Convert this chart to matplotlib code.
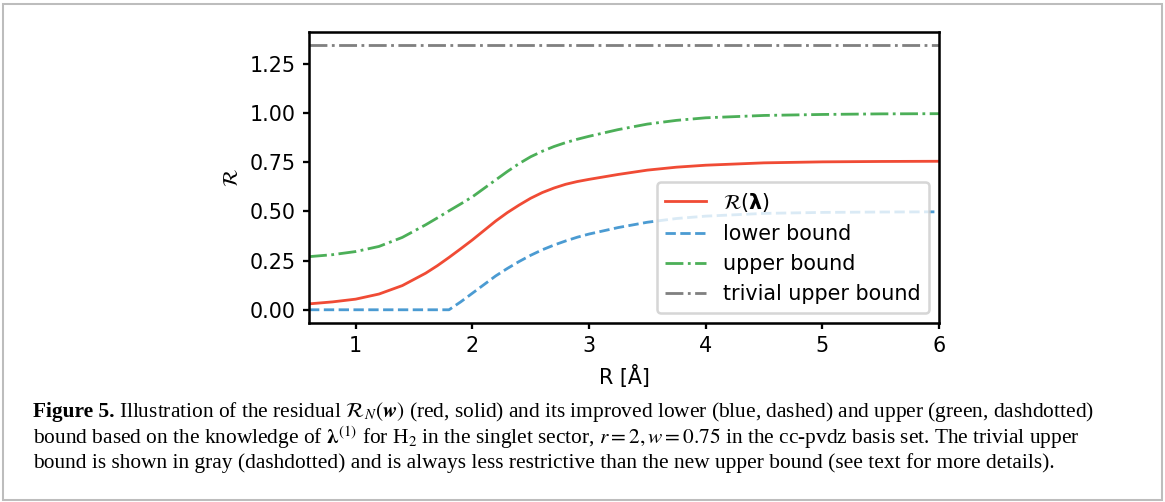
import matplotlib
matplotlib.use("Agg")
import matplotlib.pyplot as plt
from matplotlib.patches import Rectangle

# ---------------- donnees ----------------
R_vals = [0.6, 0.8, 1.0, 1.2, 1.4, 1.6, 1.7, 1.8, 1.9, 2.0, 2.1, 2.2, 2.3,
          2.4, 2.5, 2.6, 2.7, 2.8, 2.9, 3.0, 3.25, 3.5, 3.75, 4.0, 4.5, 5.0,
          5.5, 6.0]
residual = [0.030, 0.040, 0.054, 0.080, 0.123, 0.186, 0.224, 0.266, 0.310,
            0.355, 0.403, 0.451, 0.494, 0.532, 0.567, 0.596, 0.619, 0.638,
            0.652, 0.663, 0.688, 0.710, 0.725, 0.735, 0.747, 0.752, 0.754,
            0.755]
lower = [0.0, 0.0, 0.0, 0.0, 0.0, 0.0, 0.0, 0.0, 0.040, 0.084, 0.128, 0.172,
         0.210, 0.245, 0.277, 0.305, 0.329, 0.350, 0.369, 0.385, 0.418,
         0.445, 0.464, 0.476, 0.490, 0.495, 0.497, 0.498]
upper = [0.270, 0.280, 0.296, 0.322, 0.368, 0.432, 0.467, 0.503, 0.538,
         0.574, 0.617, 0.660, 0.703, 0.743, 0.778, 0.806, 0.830, 0.850,
         0.867, 0.882, 0.916, 0.944, 0.963, 0.976, 0.988, 0.993, 0.996,
         0.997]
trivial = 1.345

x_ticks = [1, 2, 3, 4, 5, 6]
y_ticks = [0.0, 0.25, 0.5, 0.75, 1.0, 1.25]

caption_lines = [
    r"Illustration of the residual $\mathcal{R}_N(\boldsymbol{w})$ (red, solid) and its improved lower (blue, dashed) and upper (green, dashdotted)",
    r"bound based on the knowledge of $\boldsymbol{\lambda}^{(1)}$ for H$_2$ in the singlet sector, $r=2, w=0.75$ in the cc-pvdz basis set. The trivial upper",
    r"bound is shown in gray (dashdotted) and is always less restrictive than the new upper bound (see text for more details).",
]

# ---------------- figure ----------------
dpi = 183
plt.rcParams["font.size"] = 8.1
fig = plt.figure(figsize=(1165 / dpi, 502 / dpi), dpi=dpi)
fig.patches.append(Rectangle((3 / 1165, 2 / 502), 1159 / 1165, 496 / 502,
                             transform=fig.transFigure, fill=False,
                             edgecolor="#bdbdbd", linewidth=0.8))

ax = fig.add_axes([309 / 1165, 1 - 323 / 502, 630 / 1165, 291 / 502])
ax.plot(R_vals, residual, color="#F04B35", lw=1.1, label=r"$\mathcal{R}(\mathbf{\lambda})$")
ax.plot(R_vals, lower, "--", color="#4B9BD2", lw=1.1, label="lower bound")
ax.plot(R_vals, upper, "-.", color="#4CAF58", lw=1.1, label="upper bound")
ax.plot([R_vals[0], R_vals[-1]], [trivial, trivial], "-.", color="gray",
        lw=1.1, label="trivial upper bound")
ax.set_xlim(0.6, 6)
ax.set_xticks(x_ticks)
ax.set_yticks(y_ticks)
ax.tick_params(length=2.3, width=0.9, pad=2.8)
ax.set_xlabel("R [Å]", labelpad=3.5)
ax.set_ylabel(r"$\mathcal{R}$", labelpad=3)
for s in ax.spines.values():
    s.set_linewidth(1.0)
ax.legend(loc="lower right")

# ---------------- legende de la figure (caption) ----------------
renderer = fig.canvas.get_renderer()
ys = [412, 438, 463]
fsize = 8.4
t0 = fig.text(33 / 1165, 1 - ys[0] / 502, "Figure 5.", fontsize=fsize,
              fontweight="bold", family="Liberation Serif", va="center")
bb = t0.get_window_extent(renderer)
x_after = (bb.x1 + 4) / fig.bbox.width
for i, line in enumerate(caption_lines):
    x0 = x_after if i == 0 else 33 / 1165
    fig.text(x0, 1 - ys[i] / 502, line, fontsize=fsize, family="Liberation Serif",
             math_fontfamily="stix", va="center")

fig.savefig("out.png", dpi=dpi)
